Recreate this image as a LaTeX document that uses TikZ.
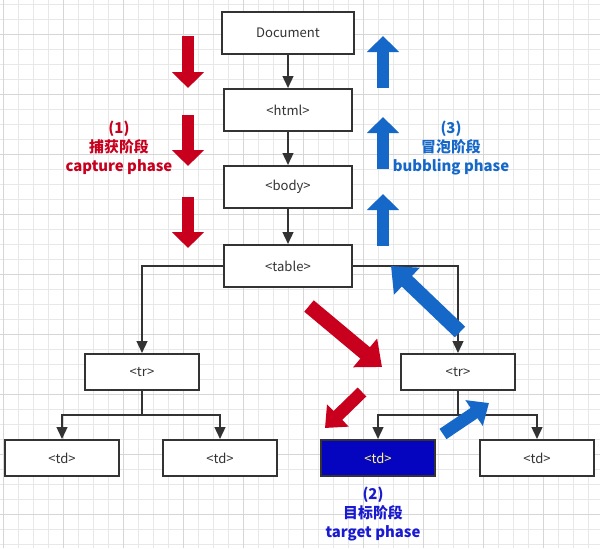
\documentclass[tikz,border=0pt]{standalone}
\usepackage{fontspec}
\setmainfont{Noto Sans CJK SC}
\usetikzlibrary{arrows.meta}

\definecolor{gridminor}{HTML}{E8E8E8}
\definecolor{gridmajor}{HTML}{D6D6D6}
\definecolor{edge}{HTML}{333333}
\definecolor{capred}{HTML}{C8001E}
\definecolor{bubblue}{HTML}{1668C8}
\definecolor{tgtblue}{HTML}{1A1AD0}
\definecolor{tdfill}{HTML}{0505C0}

\begin{document}
\begin{tikzpicture}[x=0.025cm,y=-0.025cm,
		box/.style={draw=edge, line width=1.4pt, fill=white, minimum width=3.2cm, minimum height=1.05cm, font=\fontsize{9.3}{11}\selectfont, text=edge},
		smallbox/.style={box, minimum width=2.85cm, minimum height=0.9cm},
		link/.style={draw=edge, line width=1.4pt, -{Triangle[width=0.27cm,length=0.3cm]}},
		vflow/.style={line width=0.29cm, -{Triangle[width=0.78cm,length=0.4cm]}},
		dflow/.style={line width=0.37cm, -{Triangle[width=0.9cm,length=0.55cm]}},
		sflow/.style={line width=0.31cm, -{Triangle[width=0.75cm,length=0.45cm]}},
		phase/.style={align=center, font=\bfseries\fontsize{10.6}{13.4}\selectfont}]
	\useasboundingbox (0,0) rectangle (600,548);
	\fill[white] (0,0) rectangle (600,548);
	
	% background grid
	\foreach \x in {3,18,...,600}{
		\draw[gridminor, line width=0.6pt] (\x,0) -- (\x,548);
	}
	\foreach \y in {4,19,...,548}{
		\draw[gridminor, line width=0.6pt] (0,\y) -- (600,\y);
	}
	\foreach \x in {3,63,...,600}{
		\draw[gridmajor, line width=0.6pt] (\x,0) -- (\x,548);
	}
	\foreach \y in {34,94,...,548}{
		\draw[gridmajor, line width=0.6pt] (0,\y) -- (600,\y);
	}
	
	% DOM tree
	\node[box, minimum width=3.3cm] (doc) at (288,33) {Document};
	\node[box] (html) at (288,110) {<html>};
	\node[box] (body) at (288,187) {<body>};
	\node[box] (table) at (288,266) {<table>};
	\node[smallbox] (trl) at (142,372) {<tr>};
	\node[smallbox] (trr) at (458,372) {<tr>};
	\node[smallbox] (tda) at (62,458) {<td>};
	\node[smallbox] (tdb) at (220,458) {<td>};
	\node[smallbox, fill=tdfill, text=yellow!45] (tdc) at (378,458) {<td>};
	\node[smallbox] (tdd) at (537,458) {<td>};
	
	\draw[link] (doc) -- (html);
	\draw[link] (html) -- (body);
	\draw[link] (body) -- (table);
	\draw[link] (table.west) -| (trl.north);
	\draw[link] (table.east) -| (trr.north);
	\draw[link] (trl.south) -- ++(0,24) -| (tda.north);
	\draw[link] (trl.south) -- ++(0,24) -| (tdb.north);
	\draw[link] (trr.south) -- ++(0,24) -| (tdc.north);
	\draw[link] (trr.south) -- ++(0,24) -| (tdd.north);
	
	% capture phase
	\foreach \a/\b in {36/88, 115/166, 197/248}{
		\draw[vflow, capred] (188,\a) -- (188,\b);
	}
	\draw[dflow, capred] (309,306) -- (382,367);
	\draw[sflow, capred] (362,392) -- (325,428);
	
	% bubbling phase
	\foreach \a/\b in {88/36, 169/117, 246/194}{
		\draw[vflow, bubblue] (383,\a) -- (383,\b);
	}
	\draw[dflow, bubblue] (460,332) -- (391,266);
	\draw[sflow, bubblue] (443,434) -- (489,403);
	
	\node[phase, text=capred] (capture) at (119,148) {(1)\\捕获阶段\\capture phase};
	\node[phase, text=bubblue] (bubbling) at (451,148) {(3)\\冒泡阶段\\bubbling phase};
	\node[phase, text=tgtblue] (target) at (373,514) {(2)\\目标阶段\\target phase};
\end{tikzpicture}
\end{document}
